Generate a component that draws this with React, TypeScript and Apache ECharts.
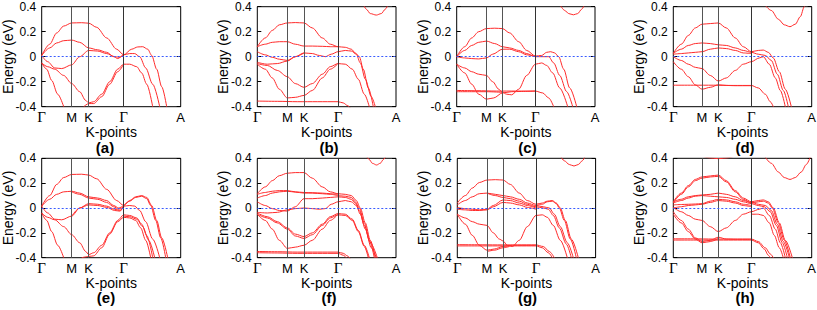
import React, { useEffect, useRef } from 'react';
import * as echarts from 'echarts';

const kLabels = ['Γ', 'M', 'K', 'Γ', 'A'];
const kCol1 = [0, 30, 47, 82, 139];
const kCol2 = [0, 30, 46.7, 80.7, 138.7];
const kCol3 = [0, 29.7, 45.7, 78.7, 138.3];
const kCol4 = [0, 28.7, 45, 78, 138.4];
const yTickLabels = ['-0.4', '-0.2', '0', '0.2', '0.4'];
const panelNames = ['(a)', '(b)', '(c)', '(d)', '(e)', '(f)', '(g)', '(h)'];

const bandsA = [
  [[0,0.01],[8,0.1],[15,0.19],[22,0.245],[30,0.27],[40,0.272],[47,0.268],[55,0.235],[65,0.15],[75,0.06],[82,0.015],[90,0.06],[96,0.078],[101,0.08],[106,0.06],[110,0.01],[115,-0.1],[120,-0.24],[125,-0.4]],
  [[0,0.01],[8,0.07],[15,0.11],[22,0.128],[30,0.133],[38,0.115],[47,0.07],[56,0.055],[65,0.035],[72,0.0],[76,-0.015],[82,0.015],[88,0.025],[93,0.025],[98,0.0],[104,-0.09],[111,-0.22],[118,-0.4]],
  [[0,0.01],[6,-0.04],[13,-0.09],[20,-0.095],[30,-0.065],[38,0.0],[47,0.05],[56,0.045],[65,0.025],[73,0.0],[78,-0.005],[82,0.015]],
  [[0,-0.05],[6,-0.08],[13,-0.1],[22,-0.15],[30,-0.215],[38,-0.28],[44,-0.35],[47,-0.37],[52,-0.36],[60,-0.3],[68,-0.2],[76,-0.1],[82,-0.06],[88,-0.06],[95,-0.08],[100,-0.13],[105,-0.22],[111,-0.4]],
  [[42,-0.4],[47,-0.375],[52,-0.375],[60,-0.32],[68,-0.22],[76,-0.12],[82,-0.06]],
  [[0,-0.05],[5,-0.1],[10,-0.19],[16,-0.3],[22,-0.4]],
];

const bandsB = [
  [[0,0.08],[8,0.15],[15,0.21],[22,0.255],[30,0.27],[38,0.273],[46.7,0.27],[55,0.23],[65,0.15],[73,0.1],[80.7,0.08],[88,0.075],[94,0.06],[98,0.03],[102,0.0],[106,-0.1],[111,-0.25],[116,-0.4]],
  [[0,0.08],[8,0.1],[15,0.115],[22,0.12],[30,0.12],[38,0.1],[46.7,0.085],[55,0.085],[65,0.083],[73,0.08],[80.7,0.08]],
  [[0,0.04],[8,0.015],[15,-0.005],[22,-0.02],[30,-0.03],[38,0.0],[46.7,0.03],[55,0.025],[62,0.01],[68,0.0],[74,0.02],[80.7,0.04],[88,0.05],[94,0.045],[99,0.02],[103,-0.05],[108,-0.18],[114,-0.32],[118,-0.4]],
  [[0,-0.045],[10,-0.06],[20,-0.055],[30,-0.035],[38,0.0],[46.7,0.03]],
  [[0,-0.055],[10,-0.07],[20,-0.11],[30,-0.16],[38,-0.215],[46.7,-0.245],[55,-0.215],[65,-0.14],[73,-0.08],[80.7,-0.055],[88,-0.06],[95,-0.1],[101,-0.18],[107,-0.3],[112,-0.4]],
  [[0,-0.06],[8,-0.1],[15,-0.17],[22,-0.26],[30,-0.33],[38,-0.325],[46.7,-0.31],[55,-0.27],[65,-0.17],[73,-0.1],[80.7,-0.055]],
  [[0,-0.355],[20,-0.357],[40,-0.36],[60,-0.36],[80.7,-0.36],[86,-0.37],[90,-0.39],[93,-0.41]],
  [[106,0.42],[109,0.38],[113,0.345],[119,0.333],[124,0.345],[128,0.38],[131,0.42]],
];

const bandsC = [
  [[0,0.0],[8,0.08],[15,0.15],[22,0.2],[29.7,0.225],[38,0.228],[45.7,0.225],[53,0.19],[62,0.12],[70,0.05],[78.7,0.005],[85,0.01],[90,0.035],[94,0.04],[98,0.03],[102,0.0],[107,-0.1],[113,-0.25],[120,-0.4]],
  [[0,0.0],[8,0.05],[15,0.09],[22,0.115],[29.7,0.125],[38,0.105],[45.7,0.08],[53,0.07],[62,0.05],[70,0.025],[78.7,0.0],[86,0.0],[92,0.0],[97,-0.05],[103,-0.15],[110,-0.28],[116,-0.4]],
  [[0,0.0],[8,-0.01],[15,-0.015],[22,-0.018],[29.7,-0.01],[36,0.02],[45.7,0.06],[53,0.06],[62,0.04],[70,0.015],[78.7,0.0]],
  [[0,-0.06],[8,-0.09],[15,-0.12],[22,-0.14],[29.7,-0.15],[36,-0.2],[42,-0.26],[45.7,-0.285],[50,-0.3],[55,-0.305],[62,-0.26],[70,-0.15],[78.7,-0.06],[85,-0.05],[90,-0.07],[96,-0.13],[103,-0.25],[111,-0.4]],
  [[0,-0.06],[8,-0.13],[15,-0.22],[22,-0.3],[29.7,-0.34],[37,-0.33],[45.7,-0.29],[55,-0.28],[65,-0.278],[78.7,-0.275]],
  [[0,-0.27],[20,-0.272],[40,-0.275],[60,-0.275],[78.7,-0.275],[86,-0.29],[92,-0.33],[97,-0.4]],
  [[0,-0.28],[15,-0.28],[30,-0.28],[45.7,-0.285]],
  [[103,0.42],[108,0.37],[112,0.345],[116.7,0.335],[121,0.345],[125,0.38],[128,0.42]],
];

const bandsD = [
  [[0,0.027],[8,0.1],[15,0.17],[22,0.23],[28.7,0.26],[37,0.265],[45,0.27],[53,0.23],[62,0.15],[70,0.08],[78,0.04],[85,0.05],[90,0.053],[95,0.035],[100,-0.01],[106,-0.12],[112,-0.26],[118,-0.4]],
  [[0,0.027],[8,0.06],[15,0.09],[22,0.105],[28.7,0.11],[37,0.105],[45,0.095],[53,0.09],[62,0.07],[70,0.05],[78,0.035],[85,0.02],[92,0.01],[98,-0.03],[104,-0.14],[110,-0.27],[115,-0.4]],
  [[0,0.02],[8,0.025],[15,0.03],[22,0.035],[28.7,0.04],[37,0.06],[45,0.07],[53,0.065],[62,0.05],[70,0.03],[78,0.025]],
  [[0,0.0],[8,-0.03],[15,-0.06],[22,-0.085],[28.7,-0.095],[37,-0.15],[45,-0.195],[53,-0.17],[62,-0.11],[70,-0.06],[78,-0.04],[86,-0.01],[90,0.0],[96,-0.06],[102,-0.17],[107,-0.27],[112,-0.4]],
  [[0,-0.04],[8,-0.1],[15,-0.16],[22,-0.225],[28.7,-0.26],[37,-0.245],[45,-0.225],[53,-0.23],[62,-0.232],[78,-0.232]],
  [[0,-0.228],[20,-0.228],[40,-0.228],[60,-0.23],[78,-0.23],[85,-0.25],[92,-0.3],[97,-0.36],[100,-0.4]],
  [[91,0.42],[98,0.37],[105,0.3],[111,0.255],[116.7,0.24],[122,0.26],[127,0.32],[131,0.4],[132,0.42]],
];

const bandsE = [
  [[0,0.015],[8,0.1],[15,0.19],[22,0.245],[30,0.27],[40,0.272],[47,0.265],[55,0.235],[65,0.15],[75,0.06],[82,0.02],[88,0.06],[94,0.09],[100,0.1],[105,0.085],[110,0.02],[115,-0.1],[120,-0.24],[126,-0.4]],
  [[82,0.02],[88,0.055],[94,0.085],[100,0.095],[105,0.075],[109,0.02],[114,-0.1],[119,-0.24],[124,-0.4]],
  [[0,0.015],[8,0.07],[15,0.11],[22,0.13],[30,0.135],[38,0.12],[47,0.09],[56,0.08],[65,0.06],[72,0.02],[77,0.0],[82,0.015],[88,0.02],[93,0.015],[98,-0.02],[104,-0.11],[111,-0.25],[118,-0.4]],
  [[30,0.13],[38,0.11],[47,0.08],[56,0.07],[65,0.045],[72,0.01],[77,-0.01],[82,0.01]],
  [[0,0.015],[6,-0.04],[13,-0.09],[20,-0.095],[30,-0.065],[38,0.0],[47,0.035],[56,0.03],[65,0.015],[73,-0.01],[78,-0.02],[82,0.01]],
  [[30,-0.065],[38,0.0],[47,0.025],[56,0.02],[65,0.005],[73,-0.02],[78,-0.025],[82,0.005]],
  [[0,-0.04],[6,-0.075],[13,-0.095],[22,-0.15],[30,-0.215],[38,-0.28],[44,-0.35],[47,-0.375],[52,-0.36],[60,-0.3],[68,-0.2],[76,-0.1],[82,-0.055],[88,-0.06],[95,-0.08],[100,-0.13],[105,-0.22],[111,-0.4]],
  [[40,-0.4],[47,-0.39],[52,-0.385],[60,-0.32],[68,-0.21],[76,-0.11],[82,-0.075],[88,-0.08],[94,-0.1],[99,-0.16],[104,-0.26],[109,-0.4]],
  [[82,-0.065],[88,-0.07],[95,-0.09],[101,-0.15],[107,-0.26],[113,-0.4]],
  [[0,-0.04],[5,-0.1],[10,-0.19],[16,-0.3],[22,-0.4]],
];

const bandsF = [
  [[0,0.115],[8,0.17],[15,0.22],[22,0.26],[30,0.28],[38,0.285],[46.7,0.285],[55,0.24],[65,0.17],[73,0.13],[80.7,0.115],[88,0.11],[94,0.1],[99,0.06],[103,0.0],[108,-0.12],[113,-0.26],[118,-0.4]],
  [[80.7,0.1],[88,0.095],[94,0.085],[98,0.05],[102,0.0],[107,-0.12],[112,-0.26],[117,-0.4]],
  [[0,0.11],[8,0.125],[15,0.135],[22,0.14],[30,0.14],[38,0.13],[46.7,0.125],[55,0.123],[65,0.12],[73,0.115],[80.7,0.11]],
  [[0,0.08],[8,0.1],[15,0.12],[22,0.13],[30,0.135],[38,0.128],[46.7,0.12],[55,0.12],[65,0.115],[73,0.11],[80.7,0.1]],
  [[0,0.05],[8,0.02],[15,-0.005],[22,-0.02],[30,-0.025],[38,0.01],[46.7,0.075],[55,0.075],[65,0.08],[73,0.085],[80.7,0.09],[88,0.085],[94,0.07],[98,0.04],[102,-0.02],[107,-0.14],[113,-0.28],[120,-0.4]],
  [[0,-0.035],[10,-0.04],[20,-0.035],[30,-0.015],[38,-0.005],[46.7,0.0],[55,-0.005],[62,-0.01],[68,-0.005],[74,0.03],[80.7,0.05],[88,0.06],[94,0.05],[99,0.02],[103,-0.05],[108,-0.17],[114,-0.32],[119,-0.4]],
  [[0,-0.04],[10,-0.07],[20,-0.11],[30,-0.16],[38,-0.21],[46.7,-0.23],[55,-0.2],[65,-0.13],[73,-0.07],[80.7,-0.045],[88,-0.05],[95,-0.09],[101,-0.18],[107,-0.3],[112,-0.4]],
  [[0,-0.05],[10,-0.08],[20,-0.12],[30,-0.17],[38,-0.225],[46.7,-0.245],[55,-0.215],[65,-0.14],[73,-0.08],[80.7,-0.055],[88,-0.06],[95,-0.1],[101,-0.19],[107,-0.31],[111,-0.4]],
  [[0,-0.05],[8,-0.1],[15,-0.17],[22,-0.26],[30,-0.325],[38,-0.315],[46.7,-0.3],[55,-0.26],[65,-0.17],[73,-0.1],[80.7,-0.05]],
  [[0,-0.35],[20,-0.352],[40,-0.355],[60,-0.355],[80.7,-0.355],[86,-0.365],[90,-0.385],[93,-0.41]],
  [[0,-0.36],[20,-0.362],[40,-0.365],[60,-0.365],[80.7,-0.365],[86,-0.38],[89,-0.4]],
  [[109,0.42],[112,0.39],[115,0.36],[119.3,0.346],[123,0.36],[126,0.39],[129,0.42]],
];

const bandsG = [
  [[0,0.04],[8,0.1],[15,0.16],[22,0.205],[29.7,0.225],[38,0.228],[45.7,0.225],[53,0.19],[62,0.12],[70,0.06],[78.7,0.03],[85,0.04],[90,0.055],[95,0.06],[99,0.04],[103,0.0],[108,-0.1],[114,-0.25],[121,-0.4]],
  [[78.7,0.02],[85,0.03],[90,0.05],[95,0.055],[99,0.035],[102,0.0],[107,-0.1],[113,-0.25],[119,-0.4]],
  [[0,0.025],[8,0.06],[15,0.09],[22,0.115],[29.7,0.12],[38,0.11],[45.7,0.1],[53,0.09],[62,0.07],[70,0.04],[78.7,0.02],[86,0.01],[92,0.0],[97,-0.05],[103,-0.15],[110,-0.28],[116,-0.4]],
  [[29.7,0.12],[38,0.1],[45.7,0.085],[53,0.075],[62,0.055],[70,0.03],[78.7,0.01],[86,0.0],[91,-0.01],[96,-0.06],[102,-0.16],[109,-0.29],[114,-0.4]],
  [[0,0.005],[8,-0.005],[15,-0.01],[22,-0.015],[29.7,-0.01],[36,0.02],[45.7,0.065],[53,0.06],[62,0.04],[70,0.02],[78.7,0.0]],
  [[0,-0.01],[8,-0.015],[15,-0.02],[22,-0.02],[29.7,-0.015],[36,0.01],[45.7,0.045],[53,0.04],[62,0.025],[70,0.005],[78.7,-0.01]],
  [[0,-0.05],[8,-0.08],[15,-0.11],[22,-0.13],[29.7,-0.14],[36,-0.2],[42,-0.25],[45.7,-0.265],[50,-0.3],[55,-0.31],[62,-0.26],[70,-0.15],[78.7,-0.06],[85,-0.055],[90,-0.075],[96,-0.14],[103,-0.26],[110,-0.4]],
  [[0,-0.05],[8,-0.13],[15,-0.22],[22,-0.3],[29.7,-0.34],[37,-0.33],[45.7,-0.31],[55,-0.3],[65,-0.3],[78.7,-0.3]],
  [[29.7,-0.35],[37,-0.34],[45.7,-0.32],[52,-0.31]],
  [[0,-0.295],[20,-0.296],[40,-0.297],[60,-0.297],[78.7,-0.297],[86,-0.31],[92,-0.35],[97,-0.4]],
  [[0,-0.305],[20,-0.305],[40,-0.305],[60,-0.305],[78.7,-0.305],[85,-0.32],[91,-0.36],[95,-0.4]],
  [[103,0.42],[107,0.38],[112,0.35],[116.7,0.338],[121,0.35],[125,0.38],[128,0.42]],
];

const bandsH = [
  [[0,0.05],[8,0.12],[15,0.18],[22,0.23],[28.7,0.25],[37,0.258],[45,0.265],[53,0.22],[62,0.14],[70,0.08],[78,0.05],[85,0.06],[90,0.065],[95,0.05],[100,0.0],[106,-0.12],[112,-0.26],[119,-0.4]],
  [[0,0.04],[8,0.11],[15,0.17],[22,0.22],[28.7,0.24],[37,0.25],[45,0.255],[53,0.21],[62,0.13],[70,0.07],[78,0.04],[85,0.05],[90,0.055],[95,0.04],[99,0.0],[105,-0.12],[111,-0.26],[117,-0.4]],
  [[0,0.05],[8,0.07],[15,0.09],[22,0.1],[28.7,0.105],[37,0.11],[45,0.12],[53,0.11],[62,0.09],[70,0.06],[78,0.045],[85,0.03],[92,0.02],[98,-0.02],[104,-0.13],[110,-0.27],[116,-0.4]],
  [[0,0.04],[8,0.06],[15,0.08],[22,0.095],[28.7,0.1],[37,0.095],[45,0.09],[53,0.085],[62,0.07],[70,0.05],[78,0.035],[85,0.02],[91,0.01],[97,-0.03],[103,-0.14],[109,-0.28],[114,-0.4]],
  [[0,0.025],[8,0.028],[15,0.03],[22,0.032],[28.7,0.035],[37,0.055],[45,0.07],[53,0.065],[62,0.05],[70,0.03],[78,0.02]],
  [[0,0.0],[8,0.01],[15,0.02],[22,0.025],[28.7,0.03],[37,0.045],[45,0.06],[53,0.055],[62,0.04],[70,0.02],[78,0.01]],
  [[0,0.005],[8,-0.03],[15,-0.06],[22,-0.09],[28.7,-0.1],[37,-0.15],[45,-0.19],[53,-0.16],[62,-0.1],[70,-0.05],[78,-0.03],[86,-0.01],[90,0.0],[96,-0.06],[102,-0.17],[107,-0.28],[112,-0.4]],
  [[78,-0.05],[85,-0.05],[90,-0.06],[96,-0.12],[101,-0.22],[106,-0.32],[110,-0.4]],
  [[0,-0.03],[8,-0.1],[15,-0.17],[22,-0.24],[28.7,-0.27],[37,-0.26],[45,-0.235],[53,-0.25],[62,-0.252],[78,-0.252]],
  [[0,-0.05],[8,-0.12],[15,-0.19],[22,-0.25],[28.7,-0.28],[37,-0.27],[45,-0.245]],
  [[0,-0.248],[20,-0.248],[40,-0.25],[60,-0.25],[78,-0.25],[85,-0.27],[92,-0.32],[97,-0.37],[100,-0.4]],
  [[0,-0.258],[20,-0.258],[40,-0.258],[60,-0.258],[78,-0.258],[85,-0.28],[91,-0.33],[95,-0.38],[97,-0.4]],
  [[91,0.42],[98,0.36],[105,0.29],[111,0.245],[116.7,0.23],[122,0.245],[128,0.29],[133,0.35],[137,0.41]],
  [[28,0.42],[35,0.405],[45,0.397],[55,0.405],[62,0.42]],
];

const panelBands = [bandsA, bandsB, bandsC, bandsD, bandsE, bandsF, bandsG, bandsH];
const panelK = [kCol1, kCol2, kCol3, kCol4, kCol1, kCol2, kCol3, kCol4];

// layout
const gridLeft = [41.7, 257.3, 456.7, 673.3, 41.7, 257.3, 457.3, 673.3];
const gridTop = [6.7, 6.7, 6.7, 6.7, 158.3, 158.3, 158.3, 158.3];
const gridH = [100, 100, 100, 100, 99.4, 99.4, 99.4, 99.4];
const labelX = [105, 329, 527.5, 745, 106, 329, 527.5, 745];
const labelY = [147, 147, 147, 147, 297.5, 297.5, 297.5, 297.5];

const RED = '#ff2b2b';
const FONT = 'Liberation Sans';

export default function App() {
  const ref = useRef<HTMLDivElement>(null);
  useEffect(() => {
    document.body.style.margin = '0';
    const chart = echarts.init(ref.current!, undefined, { renderer: 'svg' });
    const grid: any[] = [];
    const xAxis: any[] = [];
    const yAxis: any[] = [];
    const series: any[] = [];
    const graphic: any[] = [];
    panelBands.forEach((bands, i) => {
      const k = panelK[i];
      const W = k[4];
      grid.push({
        left: gridLeft[i], top: gridTop[i], width: W, height: gridH[i],
        containLabel: false, outerBoundsMode: 'none',
        show: true, borderColor: '#000', borderWidth: 1, backgroundColor: 'transparent',
      });
      xAxis.push({
        type: 'value', gridIndex: i, min: 0, max: W,
        name: 'K-points', nameLocation: 'middle', nameGap: 18, nameMoveOverlap: false,
        nameTextStyle: { fontFamily: FONT, fontSize: 14, lineHeight: 14, color: '#000' },
        axisLine: { show: false }, splitLine: { show: false },
        axisTick: { show: false },
        axisLabel: {
          customValues: k, showMinLabel: true, showMaxLabel: true, hideOverlap: false,
          margin: 4, fontFamily: FONT, fontSize: 13, lineHeight: 13, color: '#000',
          formatter: (v: number) => {
            const idx = k.findIndex((kk) => Math.abs(kk - v) < 0.01);
            const lab = kLabels[idx] ?? '';
            return lab === 'Γ' ? '{g|Γ}' : lab;
          },
          rich: { g: { fontFamily: 'Liberation Serif', fontSize: 15, lineHeight: 13, color: '#000' } },
        },
      });
      yAxis.push({
        type: 'value', gridIndex: i, min: -0.4, max: 0.4, interval: 0.2,
        name: 'Energy (eV)', nameLocation: 'middle', nameGap: 27, nameMoveOverlap: false,
        nameTextStyle: { fontFamily: FONT, fontSize: 14, lineHeight: 14, color: '#000' },
        axisLine: { show: false }, splitLine: { show: false },
        axisTick: { show: true, inside: true, length: 4, lineStyle: { color: '#000' } },
        axisLabel: {
          margin: 5.5, fontFamily: FONT, fontSize: 12, color: '#000',
          formatter: (v: number) => yTickLabels[Math.round((v + 0.4) / 0.2)] ?? '',
        },
      });
      yAxis.push({
        type: 'value', gridIndex: i, min: -0.4, max: 0.4, interval: 0.2, position: 'right',
        axisLine: { show: false }, splitLine: { show: false },
        axisTick: { show: true, inside: true, length: 4, lineStyle: { color: '#000' } },
        axisLabel: { show: false },
      });
      bands.forEach((band, j) => {
        series.push({
          type: 'line', xAxisIndex: i, yAxisIndex: 2 * i, data: band,
          showSymbol: false, symbol: 'none', smooth: 0.3, smoothMonotone: 'x',
          lineStyle: { color: RED, width: 1 }, silent: true, clip: true, z: 3,
          markLine: j === 0 ? {
            symbol: 'none', silent: true, label: { show: false }, animation: false,
            data: [
              { xAxis: k[1], lineStyle: { color: '#555', width: 1, type: 'solid' } },
              { xAxis: k[2], lineStyle: { color: '#555', width: 1, type: 'solid' } },
              { xAxis: k[3], lineStyle: { color: '#333', width: 1, type: 'solid' } },
              { yAxis: 0, lineStyle: { color: '#3a5cff', width: 1, type: [2, 2] } },
            ],
          } : undefined,
        });
      });
      graphic.push({
        type: 'text', x: labelX[i], y: labelY[i],
        style: {
          text: panelNames[i], fontFamily: FONT, fontSize: 15, fontWeight: 'bold', lineHeight: 15,
          fill: '#000', align: 'center', verticalAlign: 'middle',
        },
      });
    });
    chart.setOption({ animation: false, grid, xAxis, yAxis, series, graphic });
    return () => chart.dispose();
  }, []);
  return <div ref={ref} style={{ width: 817, height: 310 }} />;
}
